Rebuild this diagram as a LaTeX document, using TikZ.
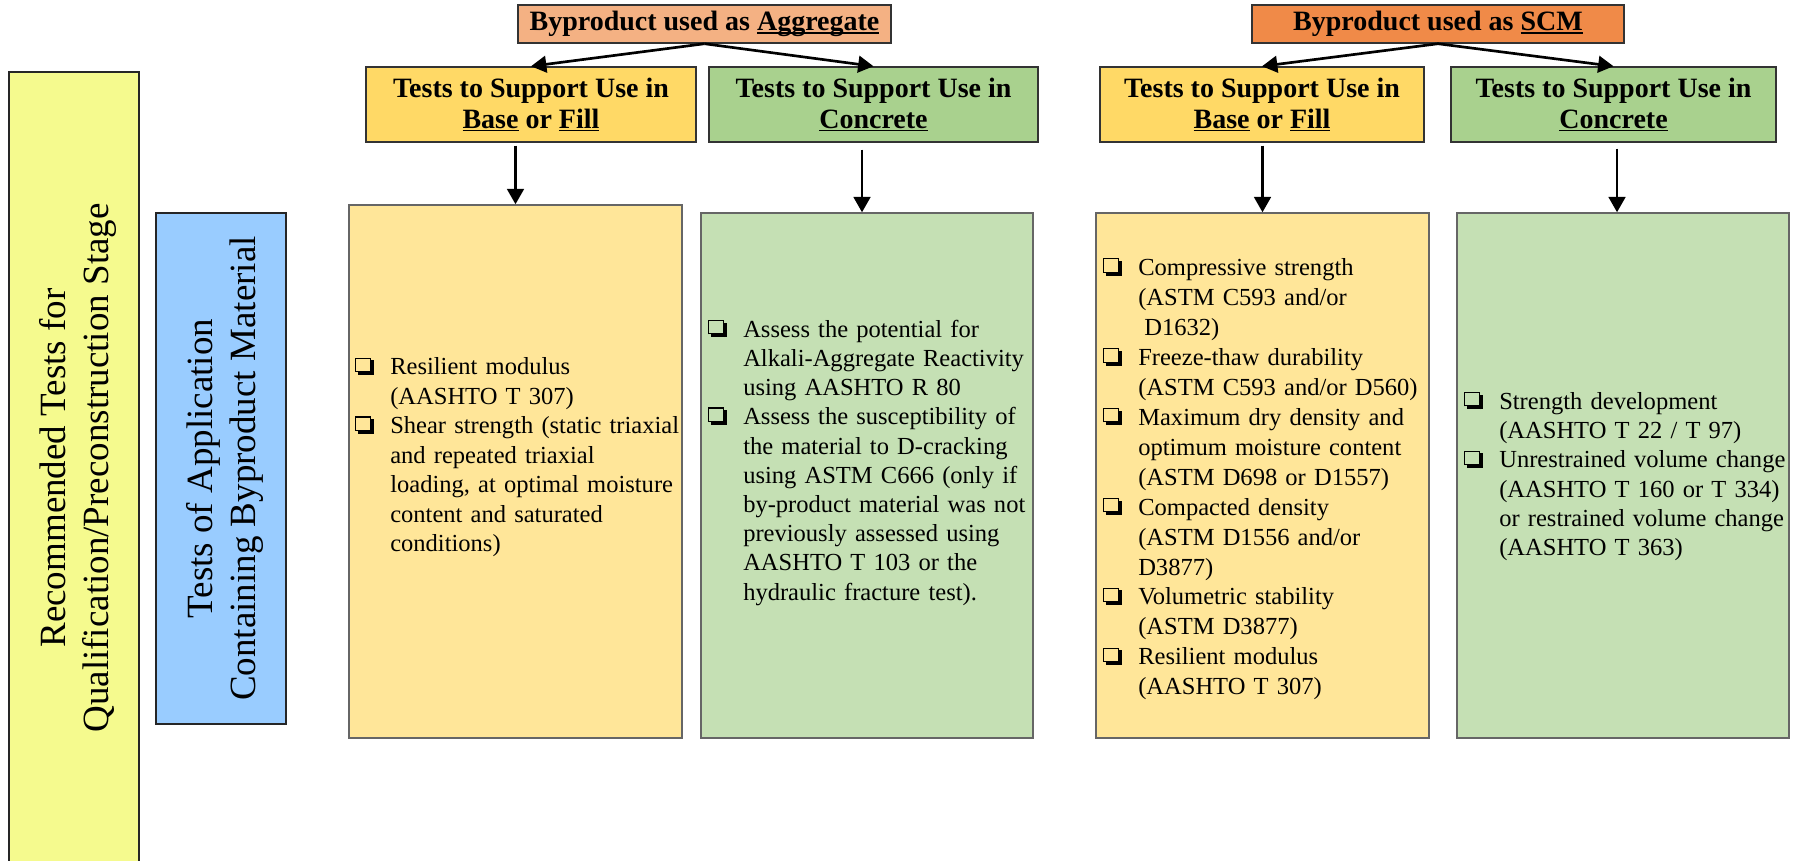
\documentclass[tikz,border=0pt]{standalone}
\usepackage{fontspec}
\setmainfont{Liberation Serif}
\usetikzlibrary{arrows.meta,calc}
\definecolor{sideY}{RGB}{245,250,142}
\definecolor{sideB}{RGB}{153,204,255}
\definecolor{aggC}{RGB}{244,177,131}
\definecolor{scmC}{RGB}{240,138,72}
\definecolor{hY}{RGB}{255,217,102}
\definecolor{hG}{RGB}{169,209,142}
\definecolor{dY}{RGB}{255,230,153}
\definecolor{dG}{RGB}{197,224,180}
\newcommand\myul[1]{\setbox0\hbox{#1}\rlap{\rule[-2.4pt]{\wd0}{1.3pt}}\box0{}}
\newcommand\cbx{{\setlength\unitlength{1pt}\begin{picture}(14,12)%
\put(0,2.2){\rule{12pt}{0.8pt}}%
\put(0,12.2){\rule{12pt}{0.8pt}}%
\put(0,2.2){\rule{0.8pt}{10.8pt}}%
\put(11.2,2.2){\rule{0.8pt}{10.8pt}}%
\put(12,0){\rule{2.2pt}{11pt}}%
\put(2,0){\rule{12.2pt}{2.2pt}}%
\end{picture}}}
\newcommand\itm[1]{\noindent\hangindent=26.25pt\hangafter=1\makebox[26.25pt][l]{\cbx}\strut#1\par}
\tikzset{
  sidebox/.style={draw=black!85, line width=1.1pt, inner sep=0pt},
  topbox/.style={draw=black!80, line width=1.1pt, inner sep=0pt, minimum height=28.5pt,
     font=\bfseries\fontsize{21}{23.25}\selectfont},
  headbox/.style={draw=black!80, line width=1.1pt, inner sep=0pt, minimum height=56.25pt,
     align=center, font=\bfseries\fontsize{21}{23.25}\selectfont},
  detbox/.style={draw=black!60, line width=1.1pt, inner sep=0pt},
  sidetext/.style={rotate=90, align=center, inner sep=0pt, font=\fontsize{27.75}{32.25}\selectfont},
  bodytext/.style={anchor=north west, inner sep=0pt, text width=262pt,
     font=\raggedright\fontsize{18.4}{#1}\selectfont},
  arr/.style={line width=2pt, -{Triangle[length=11.5pt,width=12.5pt]}},
}
\begin{document}
\begin{tikzpicture}[x=0.75pt,y=-0.75pt]
\useasboundingbox (0,0) rectangle (1794,860);
\clip (0,0) rectangle (1794,860);
% side boxes
\node[sidebox, fill=sideY, minimum width=97.5pt, minimum height=594pt] (s1) at (74,468) {};
\node[sidetext] (s1t) at (78,468) {Recommended Tests for\\Qualification/Preconstruction Stage};
\node[sidebox, fill=sideB, minimum width=97.5pt, minimum height=383.25pt] (s2) at (221,468.5) {};
\node[sidetext] (s2t) at (225,468.5) {Tests of Application\\Containing Byproduct Material};
% top boxes
\node[topbox, fill=aggC, minimum width=279.75pt] (agg) at (704.5,24) {Byproduct used as \myul{Aggregate}};
\node[topbox, fill=scmC, minimum width=279pt] (scm) at (1438,24) {Byproduct used as \myul{SCM}};
% header boxes
\node[headbox, fill=hY, minimum width=247.5pt] (h1) at (531,104.5) {Tests to Support Use in\\\myul{Base} or \myul{Fill}};
\node[headbox, fill=hG, minimum width=246.75pt] (h2) at (873.5,104.5) {Tests to Support Use in\\\myul{Concrete}};
\node[headbox, fill=hY, minimum width=243pt] (h3) at (1262,104.5) {Tests to Support Use in\\\myul{Base} or \myul{Fill}};
\node[headbox, fill=hG, minimum width=243.75pt] (h4) at (1613.5,104.5) {Tests to Support Use in\\\myul{Concrete}};
% detail boxes
\node[detbox, fill=dY, minimum width=249.75pt, minimum height=399.75pt] (d1) at (515.5,471.5) {};
\node[detbox, fill=dG, minimum width=249pt, minimum height=393.75pt] (d2) at (867,475.5) {};
\node[detbox, fill=dY, minimum width=249.75pt, minimum height=393.75pt] (d3) at (1262.5,475.5) {};
\node[detbox, fill=dG, minimum width=249pt, minimum height=393.75pt] (d4) at (1623,475.5) {};
% arrows
\draw[arr] (agg.south) -- (h1.north);
\draw[arr] (agg.south) -- (h2.north);
\draw[arr] (scm.south) -- (h3.north);
\draw[arr] (scm.south) -- (h4.north);
\draw[arr] ($(h1.south -| d1.north)+(0,3)$) -- (d1.north);
\draw[arr] ($(h2.south -| d2.north)+(-5,7)$) -- ($(d2.north)+(-5,0)$);
\draw[arr] ($(h3.south -| d3.north)+(0,3)$) -- (d3.north);
\draw[arr] ($(h4.south -| d4.north)+(-6,6)$) -- ($(d4.north)+(-6,0)$);
% texts
\node[bodytext=22.1] (t1) at (355,354) {%
\itm{Resilient modulus\newline(AASHTO T 307)}%
\itm{Shear strength (static triaxial\newline and repeated triaxial\newline loading, at optimal moisture\newline content and saturated\newline conditions)}};
\node[bodytext=21.9] (t2) at (708,316.5) {%
\itm{Assess the potential for\newline Alkali-Aggregate Reactivity\newline using AASHTO R 80}%
\itm{Assess the susceptibility of\newline the material to D-cracking\newline using ASTM C666 (only if\newline by-product material was not\newline previously assessed using\newline AASHTO T 103 or the\newline hydraulic fracture test).}};
\node[bodytext=22.45] (t3) at (1103,254.5) {%
\itm{Compressive strength\newline(ASTM C593 and/or\newline\hspace*{0.25em}D1632)}%
\itm{Freeze-thaw durability\newline(ASTM C593 and/or D560)}%
\itm{Maximum dry density and\newline optimum moisture content\newline(ASTM D698 or D1557)}%
\itm{Compacted density\newline(ASTM D1556 and/or\newline D3877)}%
\itm{Volumetric stability\newline(ASTM D3877)}%
\itm{Resilient modulus\newline(AASHTO T 307)}};
\node[bodytext=22] (t4) at (1464,388.5) {%
\itm{Strength development\newline(AASHTO T 22 / T 97)}%
\itm{Unrestrained volume change\newline(AASHTO T 160 or T 334)\newline or restrained volume change\newline(AASHTO T 363)}};
\end{tikzpicture}
\end{document}
